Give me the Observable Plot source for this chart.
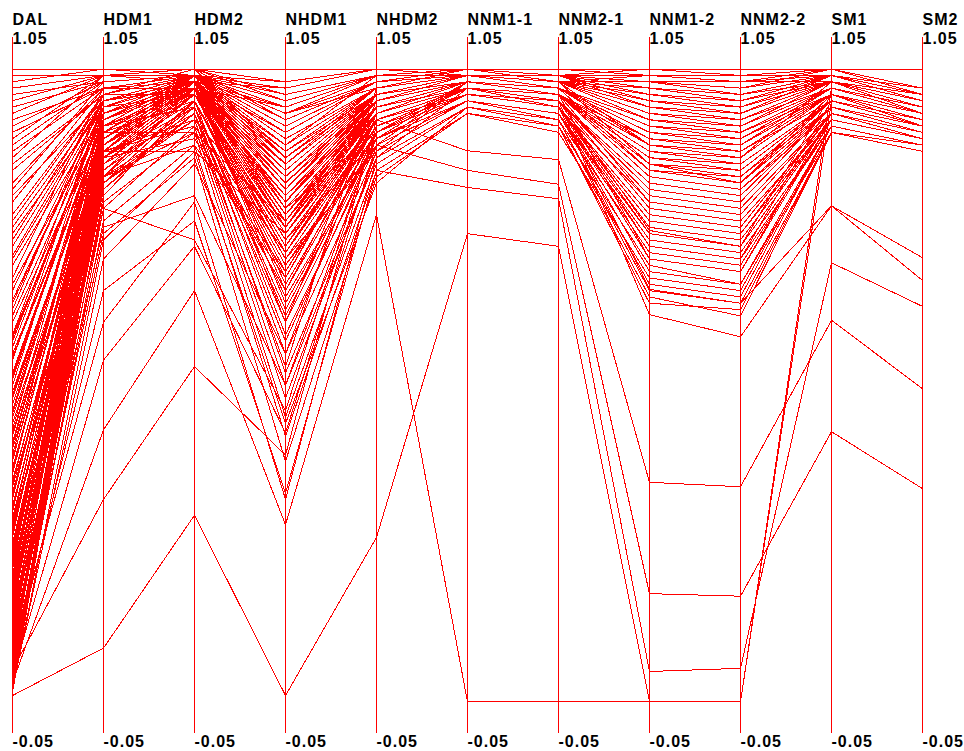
<!DOCTYPE html>
<html>
<head>
<meta charset="utf-8">
<script src="https://cdn.jsdelivr.net/npm/d3@7"></script>
<script src="https://cdn.jsdelivr.net/npm/@observablehq/plot@0.6"></script>
<style>
  html, body { margin: 0; padding: 0; background: #fff; overflow: hidden; }
  svg { display: block; }
  svg text { letter-spacing: 1px; }
</style>
</head>
<body>
<div id="chart"></div>
<script>
// Axis (dimension) names, left to right
const axes = ["DAL", "HDM1", "HDM2", "NHDM1", "NHDM2", "NNM1-1", "NNM2-1", "NNM1-2", "NNM2-2", "SM1", "SM2"];

// Shared axis range (tick labels at both ends)
const yMin = -0.05;
const yMax = 1.05;

// One value per record on each axis (record i = index i in every array)
const DAL = [
  .99, .96, .93, .90, .88, .85, .82, .80, .77, .74,
  .72, .69, .66, .63, .60, .57, .55, .52, .49, .47,
  .44, .42, .40, .37, .35, .33, .31, .29, .27, .25,
  .23, .21, .19, .17, .15, .13, .11, .09, .07, .05,
  .98, .95, .91, .87, .84, .79, .75, .70, .65, .61,
  .56, .51, .46, .41, .36, .32, .28, .24, .20, .16,
  .12, .08, .04, .02, .97, .94, .89, .81, .73, .67,
  .58, .50, .43, .38, .30, .26, .22, .18, .14, .10,
  .06, .03, .45, .34, .09, .05, .12, .07, .02, .16,
  .39, .54, .62, .86, .92, .20, .25, .48, .76, .58,
  .015, .025, .035, .045, .055, .065, .075, .085, .095, .105,
  .115, .125, .135, .145, .155, .165, .175, .185, .195, .215,
  .225, .235, .245, .265, .275, .285, .305, .325, .345, .365,
  .385, .405, .425, .455, .485, .515, .545, .575, .635, .705,
  1, .01, .03, .05, .04, .06, .08, .12, .02, .04
];
const HDM1 = [
  .99, .98, .99, .97, .98, .96, .97, .95, .96, .94,
  .95, .93, .92, .94, .91, .93, .90, .92, .89, .91,
  .88, .90, .87, .89, .86, .88, .85, .87, .84, .86,
  .88, .83, .85, .87, .82, .84, .86, .81, .83, .80,
  1.00, .99, .98, .97, .96, .97, .95, .94, .95, .93,
  .94, .92, .93, .91, .92, .90, .91, .89, .90, .88,
  .89, .87, .88, .86, .99, .98, .99, .98, .96, .97,
  .96, .95, .94, .93, .92, .91, .92, .90, .91, .89,
  .90, .88, .86, .83, .79, .76, .78, .74, .73, .81,
  .93, .95, .96, .99, .97, .85, .82, .90, .96, .91,
  .84, .86, .83, .85, .82, .87, .84, .86, .83, .88,
  .85, .87, .84, .88, .85, .89, .86, .88, .85, .89,
  .86, .90, .87, .89, .86, .90, .87, .91, .88, .90,
  .87, .91, .88, .92, .89, .92, .90, .93, .94, .95,
  1, .085, .43, .32, .54, .65, .60, .75, .70, .78
];
const HDM2 = [
  1.00, .99, .99, .98, .99, 1.00, .98, .97, .99, .96,
  .99, .98, .97, .99, .96, .99, .95, .98, .97, .99,
  .96, .98, .97, .99, .95, .98, .96, .99, .94, .97,
  .98, .95, .97, .99, .93, .96, .98, .94, .97, .95,
  .99, 1.00, .99, .98, .99, .97, .99, .98, .99, .97,
  .99, .98, .99, .97, .99, .98, .99, .97, .99, .98,
  .99, .97, .98, .96, .98, .99, 1.00, .99, 1.00, .99,
  .99, .98, .99, .98, .99, .97, .99, .98, .99, .98,
  .99, .97, .94, .92, .90, .88, .91, .86, .87, .93,
  .97, .98, .99, .99, .99, .93, .92, .95, .96, .94,
  .96, .98, .90, .97, .95, .99, .96, .98, .88, .99,
  .97, .98, .96, .99, .97, .99, .89, .98, .97, .99,
  .97, .99, .91, .98, .97, .99, .87, .99, .97, .98,
  .92, .99, .97, .99, .97, .98, .90, .99, .98, .99,
  1, .295, .65, .53, .72, .76, .79, .80, .85, .73
];
const NHDM1 = [
  .98, .95, .91, .88, .93, .86, .90, .83, .94, .80,
  .89, .77, .85, .92, .74, .87, .70, .84, .66, .90,
  .79, .63, .82, .95, .58, .81, .72, .88, .55, .76,
  .86, .68, .78, .91, .52, .73, .83, .62, .80, .69,
  .96, .92, .89, .85, .91, .81, .93, .87, .78, .84,
  .92, .75, .88, .71, .90, .79, .86, .65, .89, .77,
  .85, .60, .82, .71, .94, .97, .95, .92, .96, .91,
  .93, .88, .94, .87, .92, .80, .90, .84, .89, .76,
  .87, .73, .64, .50, .45, .42, .48, .38, .44, .57,
  .94, .97, .93, .95, .98, .60, .53, .67, .75, .61,
  .72, .81, .65, .77, .69, .85, .74, .79, .67, .88,
  .76, .83, .70, .86, .75, .90, .68, .82, .73, .87,
  .77, .91, .71, .84, .78, .89, .74, .92, .80, .86,
  .75, .90, .79, .88, .81, .85, .76, .91, .87, .92,
  1, .01, .28, .39, .425, .33, .32, .50, .55, .46
];
const NHDM2 = [
  1.00, .99, .98, .99, .97, .96, .98, .95, .99, .94,
  .97, .93, .96, .98, .92, .97, .91, .96, .90, .98,
  .94, .89, .95, .99, .88, .95, .92, .97, .87, .93,
  .96, .91, .94, .98, .86, .92, .95, .89, .94, .90,
  .99, .98, .97, .96, .98, .95, .99, .97, .94, .96,
  .98, .93, .97, .92, .98, .94, .96, .90, .97, .94,
  .96, .89, .95, .91, .99, 1.00, .99, .98, .99, .98,
  .99, .97, .99, .96, .98, .95, .98, .96, .97, .93,
  .97, .92, .88, .86, .85, .84, .87, .83, .82, .89,
  .99, 1.00, .98, .99, 1.00, .95, .97, .93, .96, .90,
  .94, .96, .92, .95, .88, .97, .94, .96, .92, .97,
  .95, .96, .87, .97, .94, .98, .92, .96, .89, .97,
  .95, .98, .93, .96, .90, .97, .93, .98, .95, .97,
  .94, .98, .95, .97, .95, .96, .94, .98, .97, .98,
  1, .26, .77, .92, .88, .84, .86, .90, .93, .91
];
const NNM1_1 = [
  1.00, 1.00, .99, 1.00, .99, .99, 1.00, .98, .99, .98,
  .99, .97, .99, 1.00, .97, .99, .96, .98, .96, .99,
  .98, .95, .98, 1.00, .95, .98, .97, .99, .95, .97,
  .99, .96, .98, 1.00, .94, .97, .98, .96, .98, .96,
  1.00, .99, .99, .98, 1.00, .98, 1.00, .99, .97, .99,
  .99, .97, .99, .96, 1.00, .98, .99, .96, .99, .98,
  .99, .96, .98, .97, 1.00, 1.00, .99, 1.00, 1.00, .99,
  1.00, .99, 1.00, .99, .99, .98, 1.00, .99, .99, .97,
  .99, .97, .95, .94, .94, .93, .95, .93, .94, .95,
  1.00, .99, 1.00, 1.00, 1.00, .99, 1.00, .97, .98, .96,
  .98, .99, .97, .99, .98, 1.00, .98, .99, .97, .99,
  .98, .99, .98, 1.00, .98, .99, .97, .99, .98, 1.00,
  .98, .99, .97, .99, .98, 1.00, .98, .99, .98, .99,
  .98, 1.00, .98, .99, .98, .99, .98, 1.00, .99, 1.00,
  1, .74, 0, .871, .84, .813, .97, .97, .98, .97
];
const NNM2_1 = [
  1.00, .99, .99, .98, .98, .97, .99, .97, .98, .96,
  .98, .96, .97, .99, .95, .98, .95, .97, .94, .99,
  .96, .93, .97, .99, .93, .96, .95, .98, .93, .96,
  .97, .94, .96, .99, .92, .95, .97, .94, .96, .94,
  .99, .98, .98, .97, .99, .96, .99, .98, .96, .97,
  .98, .96, .98, .95, .99, .96, .97, .94, .98, .96,
  .97, .94, .97, .95, .99, 1.00, .99, .99, .99, .98,
  .99, .98, .99, .97, .98, .97, .99, .97, .98, .96,
  .98, .95, .93, .92, .91, .91, .92, .90, .91, .93,
  .98, .99, .99, 1.00, 1.00, .98, .98, .96, .97, .94,
  .97, .98, .96, .97, .96, .99, .97, .98, .96, .98,
  .97, .98, .96, .99, .97, .98, .96, .98, .97, .99,
  .97, .98, .96, .98, .97, .99, .96, .98, .97, .98,
  .96, .99, .97, .98, .97, .98, .96, .99, .98, .99,
  1, .72, 0, .857, .818, .795, .95, .94, .96, .95
];
const NNM1_2 = [
  .99, .97, .95, .98, .93, .90, .96, .88, .99, .85,
  .92, .83, .91, .97, .81, .94, .78, .89, .76, .96,
  .87, .73, .90, .98, .70, .86, .80, .93, .68, .84,
  .91, .79, .85, .95, .66, .82, .88, .75, .86, .77,
  .98, .96, .94, .92, .97, .89, .99, .93, .87, .90,
  .95, .83, .92, .80, .96, .86, .91, .76, .94, .84,
  .90, .74, .88, .81, .97, 1.00, .98, .96, .98, .95,
  .97, .93, .98, .92, .96, .89, .95, .91, .94, .85,
  .92, .82, .72, .65, .69, .63, .71, .67, .64, .74,
  .99, 1.00, .97, .99, .99, .88, .85, .79, .84, .72,
  .90, .93, .86, .91, .88, .95, .89, .94, .84, .96,
  .90, .92, .87, .95, .89, .97, .83, .92, .88, .94,
  .90, .96, .85, .93, .89, .95, .86, .97, .91, .94,
  .87, .96, .90, .93, .88, .92, .86, .96, .93, .97,
  1, 0, 0, .347, .171, .048, .612, .652, .70, .745
];
const NNM2_2 = [
  .99, .96, .94, .97, .92, .89, .95, .87, .98, .83,
  .90, .81, .89, .96, .79, .93, .76, .88, .74, .95,
  .85, .71, .88, .98, .68, .84, .78, .92, .66, .82,
  .90, .77, .83, .94, .64, .80, .86, .73, .85, .75,
  .97, .94, .93, .91, .96, .87, .98, .91, .86, .89,
  .94, .81, .91, .78, .95, .85, .90, .74, .93, .82,
  .89, .72, .87, .79, .96, .99, .97, .95, .96, .94,
  .95, .92, .97, .90, .95, .88, .93, .89, .93, .84,
  .91, .80, .70, .63, .66, .62, .69, .65, .61, .72,
  .98, .99, .96, .98, .98, .86, .82, .77, .83, .70,
  .88, .92, .85, .89, .86, .94, .87, .92, .82, .95,
  .88, .91, .85, .94, .88, .96, .81, .90, .86, .93,
  .89, .95, .83, .92, .87, .94, .84, .96, .90, .93,
  .85, .95, .88, .92, .87, .91, .84, .95, .91, .96,
  1, 0, 0, .34, .167, .053, .577, .63, .68, .72
];
const SM1 = [
  1.00, .99, .98, 1.00, .97, .96, .99, .95, .98, .94,
  .97, .93, .96, .99, .94, .98, .92, .96, .93, .99,
  .95, .91, .97, 1.00, .92, .95, .93, .98, .90, .94,
  .97, .93, .95, .99, .91, .94, .96, .92, .95, .93,
  .99, .98, .99, .97, .98, .95, 1.00, .97, .96, .97,
  .98, .94, .97, .93, .99, .95, .97, .92, .98, .95,
  .97, .92, .96, .94, .99, 1.00, .99, .98, .99, .98,
  .99, .97, 1.00, .96, .98, .96, .99, .97, .98, .95,
  .97, .94, .91, .90, .91, .90, .92, .91, .90, .92,
  .98, .99, .98, 1.00, .99, .98, .96, .93, .94, .95,
  .97, .98, .95, .97, .96, .99, .96, .98, .94, .99,
  .97, .98, .95, .99, .96, .99, .94, .97, .96, .98,
  .97, .99, .95, .98, .96, .99, .95, .99, .97, .98,
  .95, .99, .96, .98, .96, .97, .95, .99, .97, .99,
  1, .97, .95, .603, .427, .694, .784, .784, .93, .96
];
const SM2 = [
  .97, .96, .95, .96, .94, .92, .95, .92, .94, .90,
  .93, .90, .93, .96, .91, .94, .89, .92, .90, .95,
  .92, .88, .93, .97, .89, .91, .90, .94, .88, .91,
  .93, .89, .92, .95, .88, .91, .93, .89, .92, .90,
  .96, .95, .96, .94, .95, .92, .97, .94, .93, .93,
  .95, .91, .94, .90, .96, .92, .93, .89, .94, .92,
  .93, .89, .93, .91, .97, .96, .95, .94, .96, .95,
  .96, .94, .96, .93, .95, .92, .96, .93, .95, .92,
  .94, .91, .88, .87, .88, .87, .89, .88, .87, .89,
  .94, .95, .96, .97, .96, .93, .92, .90, .91, .92,
  .93, .94, .92, .93, .92, .95, .93, .94, .91, .96,
  .93, .94, .92, .95, .93, .96, .91, .94, .92, .95,
  .93, .96, .92, .94, .93, .95, .92, .96, .93, .94,
  .92, .95, .93, .94, .92, .94, .91, .95, .94, .96,
  1, .93, .91, .495, .337, .625, .702, .666, .89, .91
];

const columns = [DAL, HDM1, HDM2, NHDM1, NHDM2, NNM1_1, NNM2_1, NNM1_2, NNM2_2, SM1, SM2];

// Long-format table for Plot
const rows = [];
DAL.forEach((_, i) => {
  columns.forEach((col, j) => rows.push({id: i, axis: axes[j], value: col[i]}));
});

const red = "red";
const textStyle = {
  textAnchor: "start",
  fontSize: 16,
  fontWeight: "bold",
  fill: "#000",
  dx: 0
};

const chart = Plot.plot({
  width: 964,
  height: 751,
  marginTop: 37,
  marginBottom: 18,
  marginLeft: 0,
  marginRight: 0,
  style: {fontFamily: "'Liberation Sans', Arial, sans-serif", background: "#fff", overflow: "visible"},
  x: {type: "point", domain: axes, range: [11.5, 921.5], padding: 0, axis: null},
  y: {domain: [yMin, yMax], range: [733, 37], axis: null},
  marks: [
    Plot.ruleX(axes, {x: d => d, y1: yMin, y2: yMax, stroke: red, strokeOpacity: 1, strokeWidth: 1}),
    Plot.line(rows, {x: "axis", y: "value", z: "id", stroke: red, strokeWidth: 1, strokeOpacity: 1, shapeRendering: "crispEdges"}),
    Plot.text(axes, {x: d => d, y: yMax, text: d => d, dy: -18, ...textStyle}),
    Plot.text(axes, {x: d => d, y: yMax, text: () => String(yMax), dy: 1, ...textStyle}),
    Plot.text(axes, {x: d => d, y: yMin, text: () => String(yMin), dy: 8, ...textStyle})
  ]
});

document.getElementById("chart").appendChild(chart);
</script>
</body>
</html>
